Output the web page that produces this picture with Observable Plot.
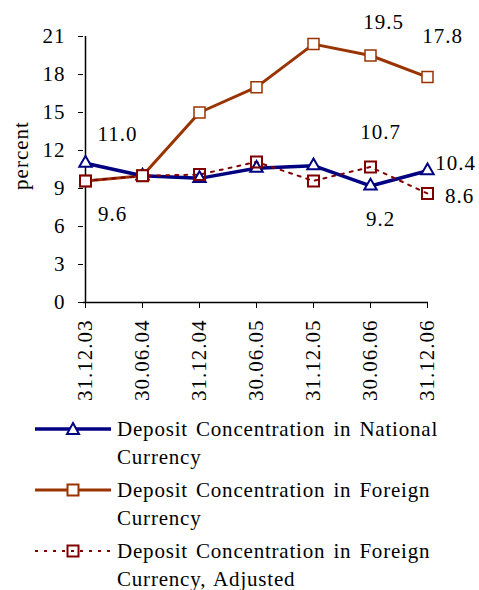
<!DOCTYPE html>
<html>
<head>
<meta charset="utf-8">
<script src="https://cdn.jsdelivr.net/npm/d3@7"></script>
<script src="https://cdn.jsdelivr.net/npm/@observablehq/plot@0.6"></script>
<style>
  body { margin: 0; background: #fff; font-family: "Liberation Serif", "Times New Roman", serif; }
  #chart svg { display: block; }
  .legend { margin: 3px 0 0 0; }
  .row { display: flex; align-items: flex-start; height: 61px; }
  .row svg { flex: none; margin-left: 33px; margin-top: 2px; }
  .row .txt { font-family: "Liberation Serif", "Times New Roman", serif; font-size: 21px; line-height: 28px; width: 350px; margin-left: 4px; color: #000; letter-spacing: 0.8px; word-spacing: 2px; }
</style>
</head>
<body>
<div id="chart"></div>
<div class="legend" id="legend"></div>
<script>
const dates = ["31.12.03", "30.06.04", "31.12.04", "30.06.05", "31.12.05", "30.06.06", "31.12.06"];
const national = [11.0, 10.0, 9.8, 10.6, 10.8, 9.2, 10.4];
const foreign = [9.6, 10.0, 15.0, 17.0, 20.4, 19.5, 17.8];
const adjusted = [9.6, 10.0, 10.1, 11.1, 9.6, 10.7, 8.6];
const yTicks = [0, 3, 6, 9, 12, 15, 18, 21];
const seriesNames = [
  "Deposit Concentration in National Currency",
  "Deposit Concentration in Foreign Currency",
  "Deposit Concentration in Foreign Currency, Adjusted"
];
const colors = { national: "#000080", foreign: "#993300", adjusted: "#800000" };

const nat = dates.map((d, i) => ({ date: d, value: national[i] }));
const fgn = dates.map((d, i) => ({ date: d, value: foreign[i] }));
const adj = dates.map((d, i) => ({ date: d, value: adjusted[i] }));

const font = '"Liberation Serif", "Times New Roman", serif';
const labelStyle = { fontSize: 21, fill: "#000", text: d => d.value.toFixed(1) };

const chart = Plot.plot({
  width: 479,
  height: 412,
  marginLeft: 83,
  marginRight: 51,
  marginTop: 36,
  marginBottom: 110,
  style: { fontFamily: font, fontSize: "21px", color: "#000", background: "#fff", letterSpacing: "1px" },
  x: { type: "point", domain: dates, padding: 0 },
  y: { domain: [0, 21] },
  marks: [
    Plot.axisY({ ticks: yTicks, tickSize: 5, tickPadding: 13, fontSize: 21, label: null, stroke: "#000" }),
    Plot.axisX({ tickSize: 6, tickPadding: 11, tickRotate: -90, fontSize: 21, label: null, stroke: "#000" }),
    Plot.text(["percent"], { frameAnchor: "left", textAnchor: "middle", dx: -62, dy: -14, rotate: -90, fontSize: 21, fill: "#000" }),
    Plot.ruleY([0], { stroke: "#000", strokeWidth: 1.5 }),
    Plot.ruleX([dates[0]], { stroke: "#000", strokeWidth: 1.5 }),
    Plot.line(fgn, { x: "date", y: "value", stroke: colors.foreign, strokeWidth: 3 }),
    Plot.line(nat, { x: "date", y: "value", stroke: colors.national, strokeWidth: 3.5 }),
    Plot.line(adj, { x: "date", y: "value", stroke: colors.adjusted, strokeWidth: 2, strokeDasharray: "3,6" }),
    Plot.dot(nat, { x: "date", y: "value", symbol: "triangle", r: 4.6, stroke: colors.national, strokeWidth: 2, fill: "white" }),
    Plot.dot(fgn, { x: "date", y: "value", symbol: "square", r: 6.2, stroke: colors.foreign, strokeWidth: 1.5, fill: "white" }),
    Plot.dot(adj, { x: "date", y: "value", symbol: "square", r: 6.2, stroke: colors.adjusted, strokeWidth: 2, fill: "none" }),
    // data labels
    Plot.text([nat[0]], { x: "date", y: "value", dx: 32, dy: -29, ...labelStyle }),
    Plot.text([fgn[0]], { x: "date", y: "value", dx: 27, dy: 33, ...labelStyle }),
    Plot.text([fgn[5]], { x: "date", y: "value", dx: 13, dy: -33, ...labelStyle }),
    Plot.text([fgn[6]], { x: "date", y: "value", dx: 15, dy: -41, ...labelStyle }),
    Plot.text([adj[5]], { x: "date", y: "value", dx: 10, dy: -35, ...labelStyle }),
    Plot.text([nat[6]], { x: "date", y: "value", dx: 28, dy: -8, ...labelStyle }),
    Plot.text([adj[6]], { x: "date", y: "value", dx: 32, dy: 3, ...labelStyle }),
    Plot.text([nat[5]], { x: "date", y: "value", dx: 10, dy: 33, ...labelStyle })
  ]
});
document.getElementById("chart").append(chart);

// legend
const legend = d3.select("#legend");
const specs = [
  { color: colors.national, width: 3.5, dash: null, symbol: "triangle", fill: "white" },
  { color: colors.foreign, width: 3, dash: null, symbol: "square", fill: "white" },
  { color: colors.adjusted, width: 2, dash: "3,6", symbol: "square", fill: "none" }
];
specs.forEach((s, i) => {
  const row = legend.append("div").attr("class", "row");
  const svg = row.append("svg").attr("width", 80).attr("height", 24);
  svg.append("line").attr("x1", 2).attr("x2", 78).attr("y1", 12).attr("y2", 12)
    .attr("stroke", s.color).attr("stroke-width", s.width).attr("stroke-dasharray", s.dash);
  if (s.symbol === "triangle") {
    svg.append("path").attr("d", "M40,6 L46,17 L34,17 Z").attr("fill", "white").attr("stroke", s.color).attr("stroke-width", 2);
  } else {
    svg.append("rect").attr("x", 34.5).attr("y", 6.5).attr("width", 11).attr("height", 11)
      .attr("fill", s.fill === "white" ? "white" : "none").attr("stroke", s.color).attr("stroke-width", 2);
    if (s.fill !== "white") svg.append("rect").attr("x", 39).attr("y", 11).attr("width", 2).attr("height", 2).attr("fill", s.color);
  }
  row.append("div").attr("class", "txt").text(seriesNames[i]);
});
</script>
</body>
</html>
